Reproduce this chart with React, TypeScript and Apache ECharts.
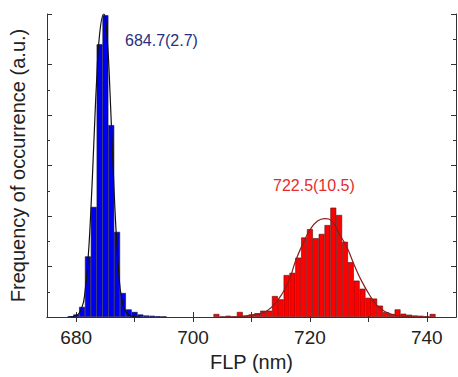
import React, { useEffect, useRef } from "react";
import * as echarts from "echarts";

const blueBins = [679, 680, 681, 682, 683, 684, 685, 686, 687, 688, 689, 690, 691, 692, 693, 694, 695];
const blueCounts = [0.03, 0.1, 0.4, 2.4, 4.36, 10.8, 11.95, 7.6, 3.37, 0.95, 0.3, 0.2, 0.1, 0.06, 0.05, 0.03, 0.02];

const redBins = [704, 705, 706, 707, 708, 709, 710, 711, 712, 713, 714, 715, 716, 717, 718, 719, 720, 721, 722, 723, 724, 725, 726, 727, 728, 729, 730, 731, 732, 733, 734, 735, 736, 737, 738, 739, 740, 741];
const redCounts = [0.12, 0.02, 0.05, 0.02, 0.2, 0.05, 0.1, 0.15, 0.25, 0.25, 0.83, 0.7, 1.66, 1.75, 2.35, 3.15, 3.48, 3.12, 3.29, 3.64, 4.33, 4.04, 2.98, 2.17, 1.44, 1.12, 0.76, 0.73, 0.45, 0.19, 0.12, 0.3, 0.13, 0.09, 0.06, 0.05, 0.03, 0.12];

const blueFitX = [679, 680, 681, 681.5, 682, 682.5, 683, 683.5, 684, 684.7, 685.3, 685.8, 686.3, 686.8, 687.3, 687.8, 688.5, 689.5, 691];
const blueFitY = [0.01, 0.05, 0.4, 1.0, 2.2, 4.2, 6.8, 9.4, 11.2, 12.0, 11.0, 8.8, 6.0, 3.5, 1.7, 0.7, 0.2, 0.03, 0.0];

const redFitX = [706, 708, 710, 712, 713.5, 715.3, 716.5, 717.6, 719, 720, 721.3, 722.5, 723.8, 725, 726.4, 727.6, 728.9, 730.4, 731.5, 732.9, 735, 737, 739];
const redFitY = [0.0, 0.02, 0.08, 0.17, 0.4, 0.94, 1.5, 2.26, 3.0, 3.45, 3.8, 3.9, 3.78, 3.3, 2.72, 2.05, 1.4, 0.8, 0.45, 0.21, 0.05, 0.01, 0.0];

const xTickValues = [680, 690, 700, 710, 720, 730, 740];
const xLabelValues = [680, 700, 720, 740];

const blueLabel = "684.7(2.7)";
const redLabel = "722.5(10.5)";
const xTitle = "FLP (nm)";
const yTitle = "Frequency of occurrence (a.u.)";

const FONT = "'Liberation Sans', Arial, Helvetica, sans-serif";

export default function App() {
  const ref = useRef<HTMLDivElement>(null);
  useEffect(() => {
    document.body.style.margin = "0";
    const chart = echarts.init(ref.current!, undefined, { renderer: "svg" });
    const axisLine = { show: true, lineStyle: { color: "#333", width: 1 } };
    const xCommon = {
      type: "value" as const,
      min: 675,
      max: 745,
      interval: 5,
      splitLine: { show: false },
      axisLine,
      axisTick: { show: true, inside: true, length: 5, customValues: xTickValues, lineStyle: { color: "#333" } },
    };
    const yCommon = {
      type: "value" as const,
      min: 0,
      max: 12,
      interval: 2,
      splitLine: { show: false },
      axisLine,
      axisLabel: { show: false },
      axisTick: { show: true, inside: true, length: 5, lineStyle: { color: "#333" } },
      minorTick: { show: true, splitNumber: 2, length: 3, lineStyle: { color: "#333" } },
    };
    chart.setOption({
      animation: false,
      backgroundColor: "#fff",
      textStyle: { fontFamily: FONT },
      grid: { left: 46, right: 2, top: 14, bottom: 60 },
      xAxis: [
        {
          ...xCommon,
          position: "bottom",
          name: xTitle,
          nameLocation: "middle",
          nameGap: 35,
          nameTextStyle: { fontSize: 20, color: "#222", fontFamily: FONT },
          axisLabel: {
            show: true,
            customValues: xLabelValues,
            margin: 11,
            fontSize: 19,
            color: "#222",
            fontFamily: FONT,
            formatter: (v: number) => (v % 20 === 0 ? String(v) : ""),
          },
        },
        { ...xCommon, position: "top", axisLabel: { show: false } },
      ],
      yAxis: [
        {
          ...yCommon,
          position: "left",
          name: yTitle,
          nameLocation: "middle",
          nameGap: 19,
          nameTextStyle: { fontSize: 20, color: "#222", fontFamily: FONT },
        },
        { ...yCommon, position: "right" },
      ],
      series: [
        {
          type: "bar",
          data: blueBins.map((b, i) => [b, blueCounts[i]]),
          barWidth: 5.87,
          barGap: "-100%",
          itemStyle: { color: "#0000f0", borderColor: "#101040", borderWidth: 0.6 },
          z: 2,
        },
        {
          type: "bar",
          data: redBins.map((b, i) => [b, redCounts[i]]),
          barWidth: 5.87,
          barGap: "-100%",
          itemStyle: { color: "#ff0000", borderColor: "#5a0a0a", borderWidth: 0.6 },
          z: 2,
        },
        {
          type: "line",
          data: blueFitX.map((x, i) => [x, blueFitY[i]]),
          smooth: true,
          showSymbol: false,
          lineStyle: { color: "#111", width: 1.2 },
          z: 3,
        },
        {
          type: "line",
          data: redFitX.map((x, i) => [x, redFitY[i]]),
          smooth: true,
          showSymbol: false,
          lineStyle: { color: "#8a1c1c", width: 1.2 },
          z: 3,
        },
      ],
      graphic: [
        {
          type: "text",
          left: 125,
          top: 32,
          style: { text: blueLabel, fontSize: 16, fill: "#26307e", fontFamily: FONT },
        },
        {
          type: "text",
          left: 273,
          top: 177,
          style: { text: redLabel, fontSize: 16, fill: "#e62b2b", fontFamily: FONT },
        },
      ],
    });
    return () => chart.dispose();
  }, []);
  return <div ref={ref} style={{ width: 458, height: 377 }} />;
}
